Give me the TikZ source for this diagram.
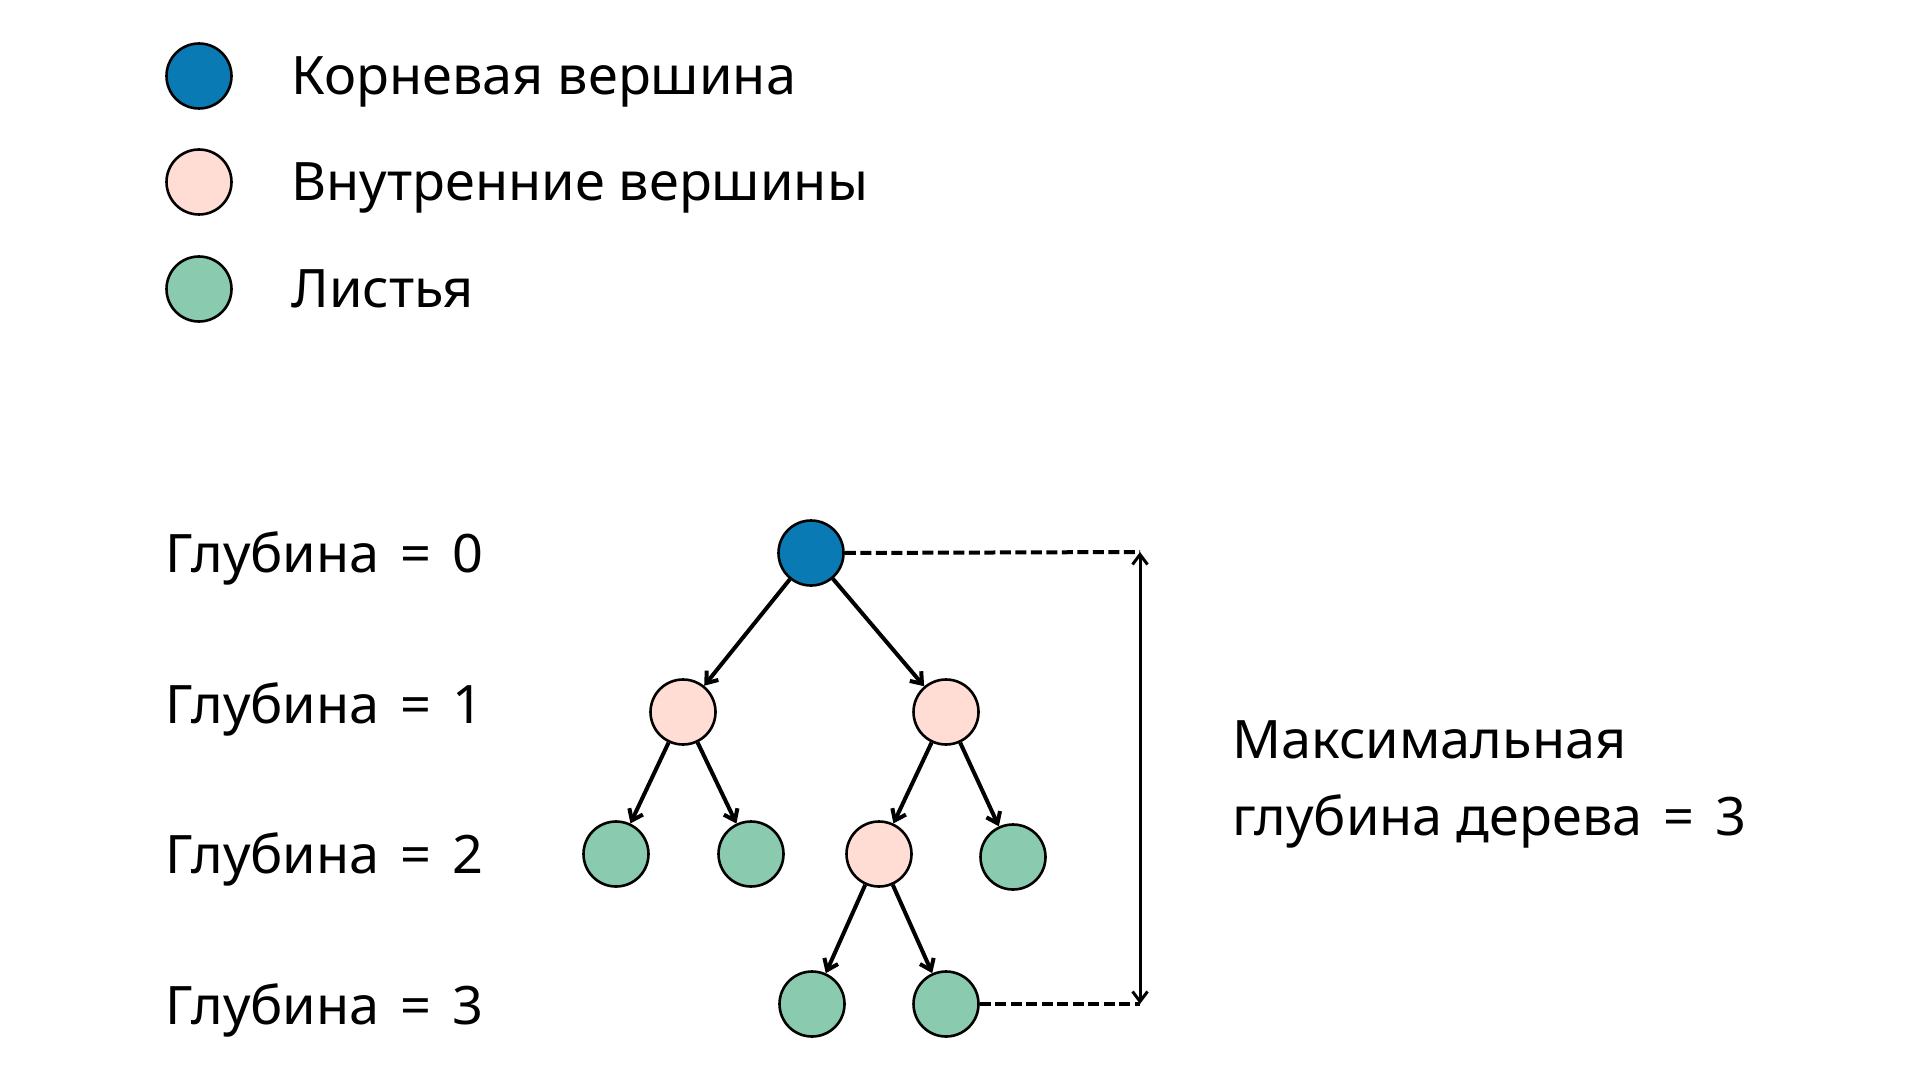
\documentclass[tikz,border=0pt]{standalone}
\usepackage{fontspec}
\setmainfont[FakeStretch=1.02]{Noto Sans}
\usetikzlibrary{arrows.meta}
\definecolor{rootblue}{HTML}{0A7AB4}
\definecolor{innerpink}{HTML}{FFDDD5}
\definecolor{leafgreen}{HTML}{8ACBB0}
\newcommand{\eqsign}{\kern3.5pt=\kern3.5pt}
\begin{document}
\begin{tikzpicture}[x=0.5pt,y=-0.5pt,
  vnode/.style={circle,draw=black,line width=1.3pt,minimum size=32.5pt,inner sep=0pt},
  rootnode/.style={vnode,fill=rootblue},
  innernode/.style={vnode,fill=innerpink},
  leafnode/.style={vnode,fill=leafgreen},
  lbl/.style={anchor=base west,inner sep=0pt,font=\fontsize{26.5pt}{32pt}\selectfont},
  edge/.style={-{Straight Barb[length=5pt,width=7.5pt]},line width=2pt},
  dashconn/.style={line width=2pt,dash pattern=on 5.5pt off 2.25pt},
  span/.style={{Straight Barb[length=5pt,width=7.5pt]}-{Straight Barb[length=5pt,width=7.5pt]},line width=1.5pt}]
\useasboundingbox[fill=white] (0,0) rectangle (1920,1080);

% legend
\node[rootnode]  (lgroot)  at (199,76)  {};
\node[innernode] (lginner) at (199,182) {};
\node[leafnode]  (lgleaf)  at (199,289) {};
\node[lbl] (lgt1) at (291,95)  {Корневая вершина};
\node[lbl] (lgt2) at (291,201) {Внутренние вершины};
\node[lbl] (lgt3) at (291,308) {Листья};

% depth labels
\node[lbl] (d0) at (165,572)  {Глубина \eqsign{} 0};
\node[lbl] (d1) at (165,723)  {Глубина \eqsign{} 1};
\node[lbl] (d2) at (165,873)  {Глубина \eqsign{} 2};
\node[lbl] (d3) at (165,1024) {Глубина \eqsign{} 3};

% tree
\node[rootnode]  (root) at (811,553) {};
\node[innernode] (a)    at (683,712) {};
\node[innernode] (b)    at (946,712) {};
\node[leafnode]  (aa)   at (616,854) {};
\node[leafnode]  (ab)   at (751,854) {};
\node[innernode] (ba)   at (879,854) {};
\node[leafnode]  (bb)   at (1013,857) {};
\node[leafnode]  (baa)  at (812,1004) {};
\node[leafnode]  (bab)  at (946,1004) {};

\draw[edge] (root) -- (a);
\draw[edge] (root) -- (b);
\draw[edge] (a) -- (aa);
\draw[edge] (a) -- (ab);
\draw[edge] (b) -- (ba);
\draw[edge] (b) -- (bb);
\draw[edge] (ba) -- (baa);
\draw[edge] (ba) -- (bab);

% max depth
\coordinate (top) at (1140,552);
\coordinate (bot) at (1140,1004);
\draw[dashconn] (root.east) -- (top);
\draw[dashconn] (bab.east) -- (bot);
\draw[span] (top) -- (bot);

\node[lbl] (mx1) at (1232,758) {Максимальная};
\node[lbl] (mx2) at (1232,835) {глубина дерева \eqsign{} 3};
\end{tikzpicture}
\end{document}
